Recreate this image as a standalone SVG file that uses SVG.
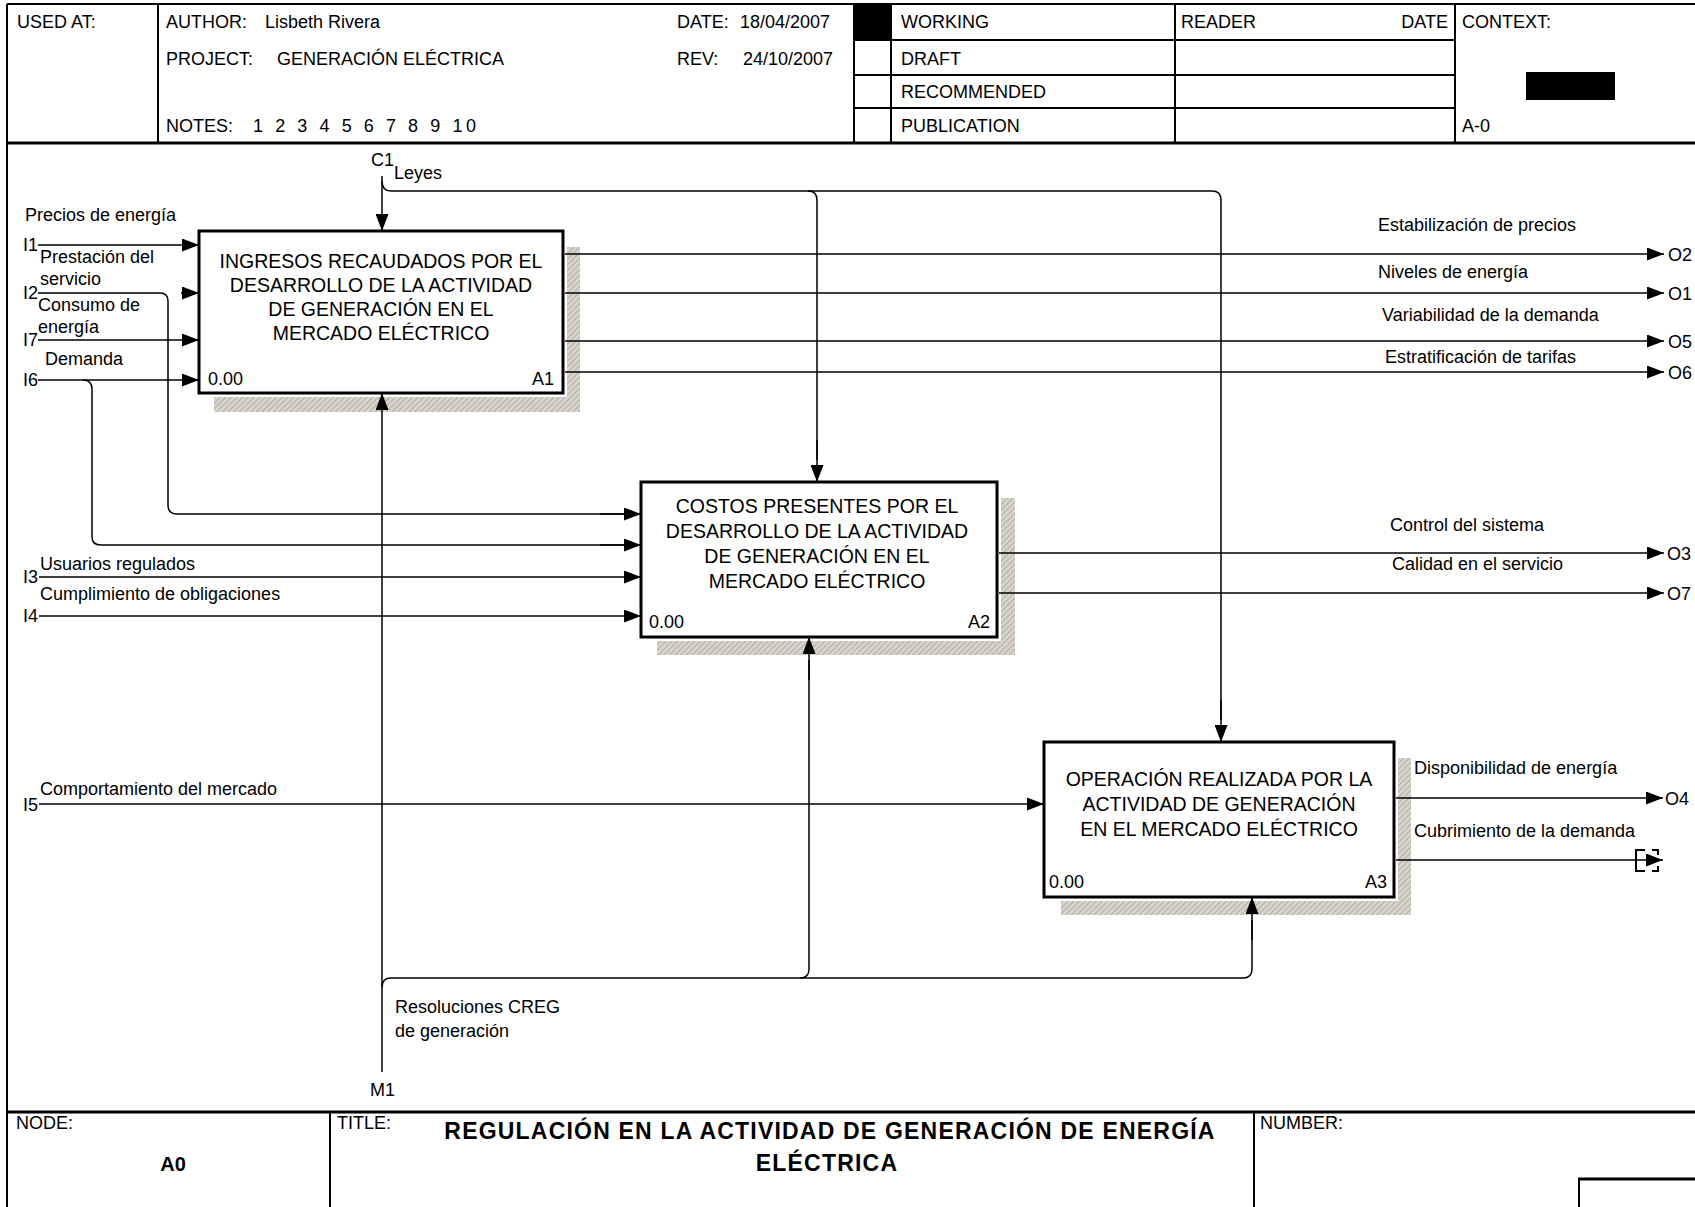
<svg xmlns="http://www.w3.org/2000/svg" width="1695" height="1207" viewBox="0 0 1695 1207">
<style>
text{font-family:"Liberation Sans",Arial,sans-serif;font-size:18px;fill:#000}
.bt{font-size:19.5px;text-anchor:middle}
.end{text-anchor:end}
.ttl{font-size:23px;font-weight:bold;text-anchor:middle;letter-spacing:1.2px}
.ln{stroke:#000;stroke-width:1.5;fill:none}
.fr{stroke:#000;stroke-width:2;fill:none}
.fr2{stroke:#000;stroke-width:2.8;fill:none}
.box{fill:#fff;stroke:#000;stroke-width:3}
.gap{fill:#fff}
.sh{fill:url(#hatch)}
.ar{stroke:#000;stroke-width:1.5;fill:none;marker-end:url(#arr)}
</style>
<defs>
<pattern id="hatch" width="4" height="4" patternUnits="userSpaceOnUse" patternTransform="rotate(45)">
<rect width="4" height="4" fill="#d8d4cc"/>
<line x1="0" y1="0" x2="0" y2="4" stroke="#a9a59d" stroke-width="1.6"/>
</pattern>
<marker id="arr" markerWidth="17" markerHeight="13" refX="17" refY="6.5" orient="auto" markerUnits="userSpaceOnUse">
<path d="M0,0 L17,6.5 L0,13 z" fill="#000"/>
</marker>
</defs>
<rect width="1695" height="1207" fill="#fff"/>

<g id="frame">
<path class="fr" d="M7,4 H1695 M7,4 V1207"/>
<path class="fr2" d="M7,143 H1695 M7,1112 H1695"/>
<path class="fr" d="M158,4 V143 M854,4 V143 M891,4 V143 M1175,4 V143 M1455,4 V143 M854,40 H1455 M854,75 H1455 M854,108 H1455"/>
<rect x="854" y="4" width="36" height="35" fill="#000"/>
<rect x="1526" y="72" width="89" height="28" fill="#000"/>
<path class="fr" d="M330,1112 V1207 M1254,1112 V1207 M1579,1179 V1207"/>
<path class="fr2" d="M1578,1179 H1695"/>
</g>

<g id="header">
<text x="17" y="28">USED AT:</text>
<text x="166" y="28">AUTHOR:</text>
<text x="265" y="28">Lisbeth Rivera</text>
<text x="166" y="65">PROJECT:</text>
<text x="277" y="65">GENERACIÓN ELÉCTRICA</text>
<text x="166" y="132">NOTES:</text>
<text x="253" y="132" textLength="223" lengthAdjust="spacing">1 2 3 4 5 6 7 8 9 10</text>
<text x="677" y="28">DATE:</text>
<text x="740" y="28">18/04/2007</text>
<text x="677" y="65">REV:</text>
<text x="743" y="65">24/10/2007</text>
<text x="901" y="28">WORKING</text>
<text x="901" y="65">DRAFT</text>
<text x="901" y="98">RECOMMENDED</text>
<text x="901" y="132">PUBLICATION</text>
<text x="1181" y="28">READER</text>
<text class="end" x="1448" y="28">DATE</text>
<text x="1462" y="28">CONTEXT:</text>
<text x="1462" y="132">A-0</text>
</g>

<g id="footer">
<text x="16" y="1129">NODE:</text>
<text x="173" y="1171" style="font-size:20px;font-weight:bold;text-anchor:middle">A0</text>
<text x="337" y="1129">TITLE:</text>
<text class="ttl" x="830" y="1139">REGULACIÓN EN LA ACTIVIDAD DE GENERACIÓN DE ENERGÍA</text>
<text class="ttl" x="827" y="1171">ELÉCTRICA</text>
<text x="1260" y="1129">NUMBER:</text>
</g>

<g id="A1">
<rect class="sh" x="214" y="247" width="366" height="165"/>
<rect class="gap" x="195" y="227" width="372" height="170"/>
<rect class="box" x="199" y="231" width="364" height="162"/>
<text class="bt" x="381" y="268">INGRESOS RECAUDADOS POR EL</text>
<text class="bt" x="381" y="292">DESARROLLO DE LA ACTIVIDAD</text>
<text class="bt" x="381" y="316">DE GENERACIÓN EN EL</text>
<text class="bt" x="381" y="340">MERCADO ELÉCTRICO</text>
<text x="208" y="385">0.00</text>
<text class="end" x="554" y="385">A1</text>
</g>

<g id="A2">
<rect class="sh" x="657" y="498" width="358" height="157"/>
<rect class="gap" x="637" y="478" width="364" height="163"/>
<rect class="box" x="641" y="482" width="356" height="155"/>
<text class="bt" x="817" y="513">COSTOS PRESENTES POR EL</text>
<text class="bt" x="817" y="538">DESARROLLO DE LA ACTIVIDAD</text>
<text class="bt" x="817" y="563">DE GENERACIÓN EN EL</text>
<text class="bt" x="817" y="588">MERCADO ELÉCTRICO</text>
<text x="649" y="628">0.00</text>
<text class="end" x="990" y="628">A2</text>
</g>

<g id="A3">
<rect class="sh" x="1061" y="758" width="350" height="157"/>
<rect class="gap" x="1040" y="738" width="358" height="163"/>
<rect class="box" x="1044" y="742" width="350" height="155"/>
<text class="bt" x="1219" y="786">OPERACIÓN REALIZADA POR LA</text>
<text class="bt" x="1219" y="811">ACTIVIDAD DE GENERACIÓN</text>
<text class="bt" x="1219" y="836">EN EL MERCADO ELÉCTRICO</text>
<text x="1049" y="888">0.00</text>
<text class="end" x="1387" y="888">A3</text>
</g>

<g id="connectors">
<!-- inputs -->
<path class="ar" d="M38,245 H199"/>
<path class="ln" d="M38,293 H160 Q168,293 168,301 V505 Q168,514 177,514 H625"/>
<path class="ar" d="M600,514 H641"/>
<path class="ar" d="M181,293 H199"/>
<path class="ar" d="M38,340 H199"/>
<path class="ar" d="M38,380 H199"/>
<path class="ln" d="M83,380 Q92,380 92,389 V537 Q92,545 101,545 H625"/>
<path class="ar" d="M600,545 H641"/>
<path class="ar" d="M39,577 H641"/>
<path class="ar" d="M39,616 H641"/>
<path class="ar" d="M39,804 H1044"/>
<!-- control -->
<path class="ar" d="M382,176 V231"/>
<path class="ln" d="M382,181 Q382,191 391,191 H1212 Q1221,191 1221,200 V720"/>
<path class="ar" d="M1221,700 V742"/>
<path class="ln" d="M808,191 Q817,191 817,200 V460"/>
<path class="ar" d="M817,440 V482"/>
<!-- mechanism -->
<path class="ar" d="M382,1072 V393"/>
<path class="ln" d="M382,987 Q382,978 391,978 H1243 Q1252,978 1252,969 V920"/>
<path class="ar" d="M1252,940 V897"/>
<path class="ln" d="M800,978 Q809,978 809,969 V660"/>
<path class="ar" d="M809,680 V637"/>
<!-- outputs -->
<path class="ar" d="M565,254 H1664"/>
<path class="ar" d="M565,293 H1664"/>
<path class="ar" d="M565,341 H1664"/>
<path class="ar" d="M565,372 H1664"/>
<path class="ar" d="M999,553 H1664"/>
<path class="ar" d="M999,593 H1664"/>
<path class="ar" d="M1396,798 H1663"/>
<path class="ar" d="M1396,860 H1663"/>
<path d="M1645,850 H1636 V871 H1645 M1652,850 H1658 V855 M1652,871 H1658 V866" stroke="#000" stroke-width="2" fill="none"/>
<!-- labels -->
<text x="25" y="221">Precios de energía</text>
<text x="23" y="251">I1</text>
<text x="40" y="263">Prestación del</text>
<text x="40" y="285">servicio</text>
<text x="23" y="299">I2</text>
<text x="38" y="311">Consumo de</text>
<text x="38" y="333">energía</text>
<text x="23" y="346">I7</text>
<text x="45" y="365">Demanda</text>
<text x="23" y="386">I6</text>
<text x="40" y="570">Usuarios regulados</text>
<text x="23" y="583">I3</text>
<text x="40" y="600">Cumplimiento de obligaciones</text>
<text x="23" y="622">I4</text>
<text x="40" y="795">Comportamiento del mercado</text>
<text x="23" y="811">I5</text>
<text x="371" y="166">C1</text>
<text x="394" y="179">Leyes</text>
<text x="395" y="1013">Resoluciones CREG</text>
<text x="395" y="1037">de generación</text>
<text x="370" y="1096">M1</text>
<text x="1378" y="231">Estabilización de precios</text>
<text x="1378" y="278">Niveles de energía</text>
<text x="1382" y="321">Variabilidad de la demanda</text>
<text x="1385" y="363">Estratificación de tarifas</text>
<text x="1390" y="531">Control del sistema</text>
<text x="1392" y="570">Calidad en el servicio</text>
<text x="1414" y="774">Disponibilidad de energía</text>
<text x="1414" y="837">Cubrimiento de la demanda</text>
<text x="1668" y="261">O2</text>
<text x="1668" y="300">O1</text>
<text x="1668" y="348">O5</text>
<text x="1668" y="379">O6</text>
<text x="1667" y="560">O3</text>
<text x="1667" y="600">O7</text>
<text x="1665" y="805">O4</text>
</g>
</svg>
